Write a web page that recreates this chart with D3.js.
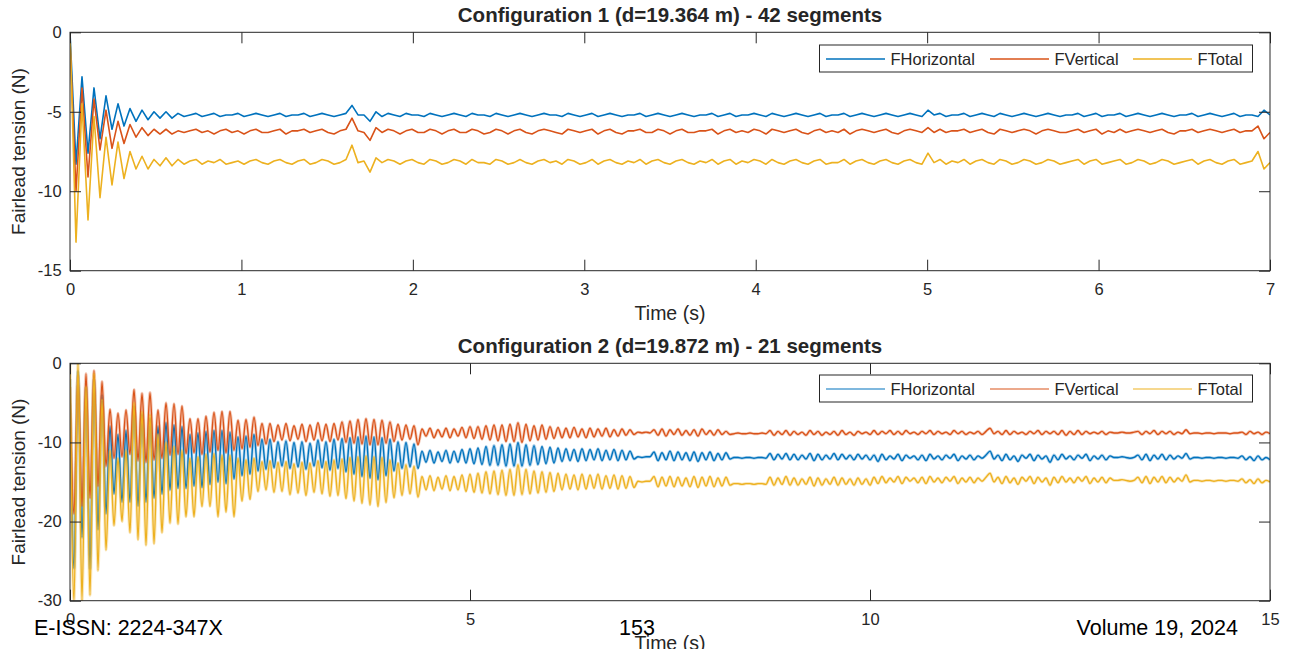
<!DOCTYPE html>
<html>
<head>
<meta charset="utf-8">
<script src="https://cdn.jsdelivr.net/npm/d3@7/dist/d3.min.js"></script>
<style>
  html, body { margin: 0; padding: 0; background: #fff; }
  svg { display: block; }
  text { font-family: "Liberation Sans", Arial, Helvetica, sans-serif; fill: #262626; }
</style>
</head>
<body>
<svg id="fig" width="1291" height="649"></svg>
<script>
// ---------- configuration 1 : 42 segments, sampled every 0.035 s ----------
const top_dt = 0.035;
const top_xTicks = [0, 1, 2, 3, 4, 5, 6, 7];
const top_yTicks = [0, -5, -10, -15];

const top_FHorizontal = [
  0, -8.3, -2.8, -7.6, -3.5, -6.7, -4.0, -6.1, -4.5, -5.9,
  -4.8, -5.6, -4.9, -5.5, -5.0, -5.4, -5.0, -5.4, -5.1, -5.3,
  -5.2, -5.1, -5.3, -5.2, -5.1, -5.3, -5.2, -5.2, -5.1, -5.3,
  -5.2, -5.1, -5.2, -5.3, -5.2, -5.1, -5.3, -5.2, -5.2, -5.1,
  -5.3, -5.2, -5.1, -5.2, -5.3, -5.2, -5.1, -4.6, -5.2, -5.2,
  -5.6, -5.0, -5.3, -5.1, -5.2, -5.3, -5.1, -5.2, -5.2, -5.3,
  -5.1, -5.2, -5.3, -5.2, -5.1, -5.2, -5.3, -5.1, -5.2, -5.2,
  -5.3, -5.1, -5.2, -5.3, -5.2, -5.1, -5.2, -5.3, -5.2, -5.1,
  -5.2, -5.2, -5.3, -5.1, -5.2, -5.3, -5.2, -5.1, -5.3, -5.2,
  -5.1, -5.2, -5.3, -5.2, -5.2, -5.1, -5.3, -5.2, -5.1, -5.2,
  -5.3, -5.2, -5.1, -5.2, -5.3, -5.2, -5.2, -5.1, -5.3, -5.2,
  -5.1, -5.3, -5.2, -5.2, -5.1, -5.2, -5.3, -5.1, -5.2, -5.3,
  -5.2, -5.1, -5.2, -5.3, -5.2, -5.1, -5.3, -5.2, -5.2, -5.1,
  -5.3, -5.2, -5.1, -5.2, -5.3, -5.2, -5.1, -5.2, -5.3, -5.2,
  -5.1, -5.2, -5.3, -4.9, -5.2, -5.1, -5.3, -5.2, -5.2, -5.1,
  -5.3, -5.2, -5.1, -5.2, -5.3, -5.1, -5.2, -5.3, -5.2, -5.1,
  -5.2, -5.3, -5.2, -5.1, -5.2, -5.3, -5.2, -5.2, -5.1, -5.3,
  -5.2, -5.1, -5.3, -5.2, -5.2, -5.1, -5.3, -5.2, -5.1, -5.2,
  -5.3, -5.2, -5.1, -5.2, -5.3, -5.2, -5.2, -5.1, -5.3, -5.2,
  -5.1, -5.2, -5.3, -5.2, -5.1, -5.3, -5.2, -5.2, -5.3, -4.9,
  -5.2
];

const top_FVertical = [
  -0.5, -10.0, -3.5, -9.1, -4.2, -7.4, -4.9, -7.3, -5.6, -7.0,
  -5.8, -6.6, -6.0, -6.5, -6.1, -6.4, -6.1, -6.4, -6.2, -6.3,
  -6.2, -6.1, -6.3, -6.2, -6.4, -6.2, -6.1, -6.3, -6.2, -6.4,
  -6.2, -6.1, -6.3, -6.3, -6.2, -6.1, -6.4, -6.2, -6.2, -6.1,
  -6.3, -6.2, -6.1, -6.3, -6.4, -6.2, -6.1, -5.4, -6.2, -6.3,
  -6.8, -6.0, -6.3, -6.1, -6.2, -6.4, -6.2, -6.1, -6.3, -6.3,
  -6.1, -6.2, -6.4, -6.2, -6.1, -6.3, -6.3, -6.1, -6.2, -6.4,
  -6.3, -6.1, -6.2, -6.4, -6.2, -6.1, -6.3, -6.4, -6.2, -6.1,
  -6.2, -6.3, -6.4, -6.1, -6.2, -6.3, -6.2, -6.1, -6.4, -6.2,
  -6.1, -6.3, -6.4, -6.2, -6.2, -6.1, -6.3, -6.3, -6.1, -6.2,
  -6.4, -6.2, -6.1, -6.3, -6.3, -6.2, -6.2, -6.1, -6.4, -6.2,
  -6.1, -6.3, -6.2, -6.3, -6.1, -6.2, -6.4, -6.1, -6.2, -6.3,
  -6.2, -6.1, -6.3, -6.4, -6.2, -6.1, -6.3, -6.2, -6.3, -6.1,
  -6.4, -6.2, -6.1, -6.2, -6.3, -6.2, -6.1, -6.3, -6.4, -6.2,
  -6.1, -6.2, -6.3, -6.0, -6.3, -6.1, -6.3, -6.2, -6.2, -6.1,
  -6.3, -6.2, -6.1, -6.3, -6.4, -6.1, -6.2, -6.3, -6.2, -6.1,
  -6.2, -6.4, -6.2, -6.1, -6.2, -6.3, -6.3, -6.2, -6.1, -6.3,
  -6.2, -6.1, -6.4, -6.2, -6.3, -6.1, -6.3, -6.2, -6.1, -6.2,
  -6.3, -6.2, -6.1, -6.3, -6.4, -6.2, -6.2, -6.1, -6.3, -6.2,
  -6.1, -6.2, -6.3, -6.2, -6.1, -6.3, -6.2, -6.2, -5.9, -6.7,
  -6.3
];

const top_FTotal = [
  0, -13.2, -4.5, -11.8, -5.3, -10.4, -6.6, -9.6, -6.9, -9.2,
  -7.5, -8.6, -7.8, -8.6, -8.0, -8.4, -7.9, -8.4, -8.0, -8.3,
  -8.1, -8.0, -8.3, -8.1, -8.2, -8.0, -8.3, -8.2, -8.1, -8.3,
  -8.1, -8.0, -8.2, -8.3, -8.1, -8.0, -8.2, -8.3, -8.1, -8.0,
  -8.3, -8.2, -8.0, -8.1, -8.3, -8.2, -8.0, -7.1, -8.2, -8.1,
  -8.8, -7.9, -8.2, -8.0, -8.1, -8.3, -8.1, -8.0, -8.2, -8.3,
  -8.0, -8.1, -8.3, -8.2, -8.0, -8.1, -8.3, -8.0, -8.2, -8.2,
  -8.3, -8.0, -8.1, -8.3, -8.2, -8.0, -8.2, -8.3, -8.1, -8.0,
  -8.2, -8.1, -8.3, -8.0, -8.1, -8.3, -8.2, -8.0, -8.3, -8.1,
  -8.0, -8.2, -8.3, -8.1, -8.2, -8.0, -8.3, -8.1, -8.0, -8.2,
  -8.3, -8.1, -8.0, -8.2, -8.3, -8.1, -8.2, -8.0, -8.3, -8.1,
  -8.0, -8.3, -8.1, -8.2, -8.0, -8.1, -8.3, -8.0, -8.2, -8.3,
  -8.1, -8.0, -8.2, -8.3, -8.1, -8.0, -8.3, -8.2, -8.2, -8.0,
  -8.3, -8.1, -8.0, -8.2, -8.3, -8.1, -8.0, -8.2, -8.3, -8.1,
  -8.0, -8.2, -8.3, -7.6, -8.2, -8.0, -8.3, -8.1, -8.2, -8.0,
  -8.3, -8.1, -8.0, -8.2, -8.3, -8.0, -8.1, -8.3, -8.2, -8.0,
  -8.1, -8.3, -8.2, -8.0, -8.1, -8.3, -8.2, -8.1, -8.0, -8.3,
  -8.1, -8.0, -8.3, -8.2, -8.1, -8.0, -8.3, -8.2, -8.0, -8.1,
  -8.3, -8.2, -8.0, -8.1, -8.3, -8.2, -8.1, -8.0, -8.3, -8.1,
  -8.0, -8.2, -8.3, -8.1, -8.0, -8.3, -8.2, -8.1, -7.5, -8.6,
  -8.2
];

// ---------- configuration 2 : 21 segments, sampled every 0.05 s ----------
const bottom_dt = 0.05;
const bottom_xTicks = [0, 5, 10, 15];
const bottom_yTicks = [0, -10, -20, -30];

const bottom_FHorizontal = [
  -2, -25.9, -1, -22, -3, -26, -2, -21, -4, -19,
  -8, -16.5, -9, -17.5, -8.5, -17.5, -5.5, -18.0, -6.5, -17.5,
  -7.0, -17.0, -8.0, -16.5, -7.5, -16.0, -7.8, -15.8, -8.0, -15.8,
  -9.0, -15.5, -8.8, -15.7, -8.6, -15.3, -8.5, -15.0, -8.5, -15.2,
  -8.7, -14.6, -9.3, -14.2, -9.2, -14.0, -9.0, -13.6, -9.6, -13.4,
  -9.6, -13.2, -9.9, -13.0, -9.8, -13.3, -10.0, -13.1, -9.9, -13.4,
  -10.1, -13.0, -9.7, -13.2, -9.9, -13.5, -9.6, -13.3, -9.5, -13.7,
  -9.4, -14.0, -9.3, -14.3, -9.2, -14.5, -9.3, -14.7, -9.4, -14.2,
  -9.6, -13.6, -9.9, -13.3, -10.0, -13.1, -10.2, -13.3, -11.1, -12.5,
  -11.0, -12.6, -11.2, -12.4, -11.0, -12.6, -11.1, -12.5, -10.9, -12.6,
  -10.8, -12.7, -10.7, -12.8, -10.5, -12.9, -10.4, -12.9, -10.3, -13.0,
  -10.2, -13.0, -10.0, -13.0, -10.3, -12.9, -10.4, -12.8, -10.5, -12.7,
  -10.6, -12.6, -10.7, -12.4, -10.8, -12.3, -10.9, -12.4, -10.8, -12.3,
  -10.9, -12.2, -10.8, -12.3, -11.0, -12.2, -10.9, -12.3, -11.0, -12.2,
  -11.1, -12.1, -11.8, -11.9, -11.8, -11.8, -11.2, -12.3, -11.3, -12.2,
  -11.1, -12.3, -11.2, -12.2, -11.3, -12.3, -11.2, -12.4, -11.3, -12.2,
  -11.2, -12.3, -11.4, -12.2, -11.3, -12.1, -11.9, -11.9, -12.0, -11.9,
  -11.9, -12.0, -11.9, -11.9, -12.0, -11.4, -12.2, -11.5, -12.1, -11.4,
  -12.2, -11.5, -12.2, -11.6, -12.1, -11.4, -12.3, -11.5, -12.2, -11.6,
  -12.1, -11.4, -12.2, -11.5, -12.1, -11.6, -12.2, -11.5, -12.1, -11.6,
  -12.2, -11.6, -12.4, -11.5, -12.2, -11.7, -12.1, -11.5, -12.3, -11.6,
  -12.0, -11.7, -12.2, -11.6, -12.3, -11.5, -12.1, -11.7, -12.2, -11.6,
  -12.0, -11.5, -12.3, -11.7, -12.1, -11.6, -12.2, -11.7, -12.0, -11.6,
  -11.1, -12.1, -11.6, -12.3, -11.5, -12.2, -11.7, -12.4, -11.6, -12.0,
  -11.5, -12.3, -11.6, -12.1, -11.7, -12.5, -11.6, -12.2, -11.5, -12.1,
  -11.7, -12.2, -11.6, -12.0, -11.5, -12.3, -11.7, -12.1, -11.6, -12.2,
  -11.7, -11.9, -11.9, -11.8, -11.9, -12.0, -11.9, -11.6, -12.2, -11.5,
  -12.3, -11.6, -12.1, -11.5, -12.2, -11.6, -12.1, -11.7, -12.0, -11.4,
  -12.1, -11.9, -11.9, -12.0, -11.9, -11.9, -12.0, -11.9, -11.9, -12.0,
  -11.9, -11.9, -12.0, -11.7, -12.2, -11.8, -12.3, -11.7, -12.2, -11.9,
  -12.2
];

const bottom_FVertical = [
  -3, -19, -1.5, -18, -1.3, -17, -0.9, -15.5, -2.3, -13,
  -5.8, -12.0, -6.3, -11.8, -5.9, -11.5, -3.3, -12.3, -3.8, -12.5,
  -3.7, -12.2, -5.9, -12.0, -5.0, -11.6, -5.1, -11.5, -5.4, -11.4,
  -7.0, -11.3, -7.0, -11.5, -6.7, -11.2, -6.2, -11.0, -6.1, -11.3,
  -6.1, -11.0, -7.2, -10.8, -7.1, -10.6, -6.8, -10.4, -7.6, -10.2,
  -7.6, -9.9, -7.8, -9.7, -7.6, -9.8, -7.9, -9.6, -7.7, -9.9,
  -7.8, -9.7, -7.5, -9.8, -7.7, -9.9, -7.6, -9.7, -7.4, -10.0,
  -7.3, -10.1, -7.1, -10.2, -7.0, -10.3, -7.1, -10.3, -7.2, -10.1,
  -7.4, -9.9, -7.7, -9.7, -7.8, -9.6, -7.9, -10.3, -8.3, -9.2,
  -8.2, -9.4, -8.4, -9.3, -8.2, -9.4, -8.3, -9.2, -8.1, -9.4,
  -8.0, -9.5, -8.0, -9.6, -7.9, -9.7, -7.8, -9.8, -7.8, -9.9,
  -7.7, -9.9, -7.5, -10.0, -7.7, -9.8, -7.9, -9.7, -7.8, -9.6,
  -8.0, -9.5, -8.1, -9.4, -8.2, -9.4, -8.1, -9.3, -8.3, -9.4,
  -8.2, -9.3, -8.3, -9.2, -8.2, -9.3, -8.4, -9.2, -8.3, -9.1,
  -8.4, -9.0, -8.7, -8.8, -8.7, -8.8, -8.4, -9.1, -8.3, -9.2,
  -8.4, -9.0, -8.3, -9.1, -8.5, -9.1, -8.4, -9.2, -8.3, -9.0,
  -8.5, -9.1, -8.4, -9.0, -8.6, -9.0, -8.9, -8.8, -8.9, -8.9,
  -8.8, -8.9, -8.9, -8.8, -8.9, -8.5, -9.1, -8.6, -9.0, -8.5,
  -9.1, -8.6, -9.0, -8.7, -9.1, -8.5, -9.0, -8.6, -9.1, -8.7,
  -9.0, -8.6, -9.1, -8.5, -9.0, -8.7, -9.1, -8.6, -8.9, -8.7,
  -9.0, -8.5, -9.0, -8.6, -8.9, -8.5, -9.0, -8.6, -9.0, -8.5,
  -8.9, -8.7, -9.0, -8.6, -8.9, -8.5, -9.0, -8.6, -8.9, -8.7,
  -9.0, -8.5, -8.9, -8.6, -9.0, -8.7, -8.9, -8.6, -9.0, -8.6,
  -8.2, -8.9, -8.6, -9.0, -8.5, -9.0, -8.6, -8.9, -8.7, -9.0,
  -8.6, -8.9, -8.5, -9.0, -8.6, -8.9, -8.6, -9.0, -8.5, -9.1,
  -8.6, -9.0, -8.5, -9.0, -8.6, -8.9, -8.7, -8.9, -8.6, -9.0,
  -8.7, -8.8, -8.8, -8.7, -8.8, -8.8, -8.7, -8.6, -9.0, -8.6,
  -8.9, -8.5, -9.0, -8.6, -8.9, -8.6, -9.0, -8.7, -8.9, -8.4,
  -8.9, -8.8, -8.8, -8.9, -8.8, -8.8, -8.9, -8.8, -8.8, -8.8,
  -8.9, -8.8, -8.8, -8.7, -9.0, -8.6, -8.9, -8.7, -9.0, -8.7,
  -8.9
];

const bottom_FTotal = [
  0, -30, 0, -30, -3, -29.3, -1.3, -26.2, -4.6, -23.6,
  -11, -20.5, -12, -20.0, -11, -21.4, -5.0, -22.3, -6.1, -23.0,
  -6.5, -22.8, -9.0, -21.4, -10.0, -20.2, -10.5, -20.3, -11.0, -19.4,
  -12.0, -19.4, -11.8, -18.1, -11.5, -18.1, -11.4, -19.4, -11.6, -18.8,
  -11.6, -19.4, -12.0, -17.4, -12.2, -17.2, -12.0, -16.2, -12.4, -16.0,
  -12.3, -16.3, -12.5, -16.2, -12.4, -16.6, -12.7, -16.4, -12.5, -16.7,
  -12.6, -16.3, -12.3, -16.5, -12.4, -16.8, -12.2, -16.7, -12.1, -17.1,
  -11.9, -17.4, -11.8, -17.7, -11.7, -17.9, -11.8, -18.1, -11.9, -17.6,
  -12.2, -17.0, -12.6, -16.7, -12.8, -16.5, -13.0, -16.9, -14.3, -16.0,
  -14.2, -16.1, -14.4, -15.9, -14.2, -16.1, -14.3, -16.0, -14.1, -16.2,
  -14.0, -16.3, -13.9, -16.4, -13.7, -16.5, -13.6, -16.6, -13.5, -16.7,
  -13.4, -16.7, -12.8, -16.6, -13.4, -16.5, -13.6, -16.4, -13.7, -16.3,
  -13.8, -16.2, -13.9, -16.0, -14.0, -15.9, -14.1, -16.0, -14.0, -15.9,
  -14.1, -15.8, -14.0, -15.9, -14.2, -15.8, -14.1, -15.9, -14.2, -15.8,
  -14.3, -15.7, -14.9, -15.0, -14.9, -14.9, -14.3, -15.6, -14.4, -15.5,
  -14.3, -15.6, -14.4, -15.5, -14.5, -15.6, -14.3, -15.7, -14.4, -15.5,
  -14.3, -15.6, -14.5, -15.5, -14.4, -15.4, -15.2, -15.2, -15.3, -15.2,
  -15.2, -15.3, -15.2, -15.2, -15.3, -14.4, -15.4, -14.5, -15.3, -14.3,
  -15.4, -14.5, -15.4, -14.6, -15.3, -14.4, -15.5, -14.5, -15.4, -14.6,
  -15.3, -14.4, -15.4, -14.5, -15.3, -14.6, -15.4, -14.5, -15.3, -14.6,
  -15.4, -14.4, -15.2, -14.3, -15.1, -14.5, -15.0, -14.3, -15.2, -14.4,
  -14.9, -14.5, -15.1, -14.4, -15.2, -14.3, -15.0, -14.5, -15.1, -14.4,
  -14.9, -14.3, -15.2, -14.5, -15.0, -14.4, -15.1, -14.5, -14.9, -14.4,
  -13.9, -15.0, -14.4, -15.2, -14.3, -15.1, -14.5, -15.3, -14.4, -14.9,
  -14.3, -15.2, -14.4, -15.0, -14.5, -15.4, -14.4, -15.1, -14.3, -15.0,
  -14.5, -15.1, -14.4, -14.9, -14.3, -15.2, -14.5, -15.0, -14.4, -15.1,
  -14.5, -14.8, -14.8, -14.7, -14.8, -14.9, -14.8, -14.4, -15.1, -14.3,
  -15.2, -14.4, -15.0, -14.3, -15.1, -14.4, -15.0, -14.5, -14.9, -14.1,
  -15.0, -14.8, -14.8, -14.9, -14.8, -14.8, -14.9, -14.8, -14.8, -14.9,
  -14.8, -14.8, -14.9, -14.6, -15.1, -14.7, -15.2, -14.6, -15.1, -14.8,
  -15.0
];

const seriesNames = ["FHorizontal", "FVertical", "FTotal"];
const seriesColors = ["#0072BD", "#D95319", "#EDB120"];

// ---------- layout ----------
const svg = d3.select("#fig");
svg.append("rect").attr("width", 1291).attr("height", 649).attr("fill", "#fff");

const axisColor = "#262626";
const plotLeft = 70, plotRight = 1270;

const panels = [
  {
    id: "p1",
    title: "Configuration 1 (d=19.364 m) - 42 segments",
    top: 32.3, bottom: 270.7,
    xMax: 7, yMin: -15,
    xTicks: top_xTicks, yTicks: top_yTicks,
    dt: top_dt,
    data: [top_FHorizontal, top_FVertical, top_FTotal],
    curve: d3.curveLinear,
    halo: false,
    legendTop: 45,
    legendOpacity: 1
  },
  {
    id: "p2",
    title: "Configuration 2 (d=19.872 m) - 21 segments",
    top: 363.3, bottom: 600.7,
    xMax: 15, yMin: -30,
    xTicks: bottom_xTicks, yTicks: bottom_yTicks,
    dt: bottom_dt,
    data: [bottom_FHorizontal, bottom_FVertical, bottom_FTotal],
    curve: d3.curveMonotoneX,
    halo: true,
    legendTop: 375,
    legendOpacity: 0.5
  }
];

const defs = svg.append("defs");

panels.forEach(p => {
  const x = d3.scaleLinear().domain([0, p.xMax]).range([plotLeft, plotRight]);
  const y = d3.scaleLinear().domain([p.yMin, 0]).range([p.bottom, p.top]);
  const g = svg.append("g");

  defs.append("clipPath").attr("id", "clip-" + p.id)
    .append("rect")
    .attr("x", plotLeft).attr("y", p.top)
    .attr("width", plotRight - plotLeft).attr("height", p.bottom - p.top);

  // data lines
  const lines = g.append("g").attr("clip-path", `url(#clip-${p.id})`);
  const line = d3.line()
    .x((d, i) => x(i * p.dt))
    .y(d => y(d))
    .curve(p.curve);

  p.data.forEach((vals, k) => {
    if (p.halo) {
      lines.append("path").datum(vals)
        .attr("d", line)
        .attr("fill", "none")
        .attr("stroke", seriesColors[k])
        .attr("stroke-opacity", 0.3)
        .attr("stroke-width", 3)
        .attr("stroke-linejoin", "round");
    }
    lines.append("path").datum(vals)
      .attr("d", line)
      .attr("fill", "none")
      .attr("stroke", seriesColors[k])
      .attr("stroke-width", p.halo ? 1.4 : 1.6)
      .attr("stroke-linejoin", "round");
  });

  // axes with inward ticks on all four sides
  const fontSize = "16.5px";
  const gx = g.append("g").attr("transform", `translate(0,${p.bottom})`)
    .call(d3.axisBottom(x).tickValues(p.xTicks).tickSizeInner(-11).tickSizeOuter(0).tickPadding(12.3).tickFormat(d3.format("d")));
  const gxTop = g.append("g").attr("transform", `translate(0,${p.top})`)
    .call(d3.axisTop(x).tickValues(p.xTicks).tickSizeInner(-11).tickSizeOuter(0).tickFormat(""));
  const gy = g.append("g").attr("transform", `translate(${plotLeft},0)`)
    .call(d3.axisLeft(y).tickValues(p.yTicks).tickSizeInner(-11).tickSizeOuter(0).tickPadding(8.3).tickFormat(d3.format("d")));
  const gyRight = g.append("g").attr("transform", `translate(${plotRight},0)`)
    .call(d3.axisRight(y).tickValues(p.yTicks).tickSizeInner(-11).tickSizeOuter(0).tickFormat(""));

  [gx, gxTop, gy, gyRight].forEach(a => {
    a.select(".domain").remove();
    a.selectAll(".tick line").attr("stroke", axisColor).attr("stroke-width", 1);
    a.selectAll(".tick text")
      .attr("fill", axisColor)
      .style("font-size", fontSize)
      .style("font-family", "'Liberation Sans', Arial, sans-serif");
  });
  gy.selectAll(".tick text").text(d => d === 0 ? "0" : "-" + Math.abs(d));

  // frame
  g.append("rect")
    .attr("x", plotLeft).attr("y", p.top)
    .attr("width", plotRight - plotLeft).attr("height", p.bottom - p.top)
    .attr("fill", "none").attr("stroke", axisColor).attr("stroke-width", 1);

  // title
  g.append("text")
    .attr("x", (plotLeft + plotRight) / 2).attr("y", p.top - 10)
    .attr("text-anchor", "middle")
    .style("font-size", "20.5px").style("font-weight", "bold")
    .text(p.title);

  // axis labels
  g.append("text")
    .attr("x", (plotLeft + plotRight) / 2).attr("y", p.bottom + 49)
    .attr("text-anchor", "middle")
    .style("font-size", "19.5px")
    .text("Time (s)");

  g.append("text")
    .attr("transform", `translate(25,${(p.top + p.bottom) / 2}) rotate(-90)`)
    .attr("text-anchor", "middle")
    .style("font-size", "19px")
    .text("Fairlead tension (N)");

  // legend
  const lg = g.append("g");
  const lx0 = 819.5, lx1 = 1252.5, ly0 = p.legendTop, lh = 27;
  lg.append("rect")
    .attr("x", lx0).attr("y", ly0).attr("width", lx1 - lx0).attr("height", lh)
    .attr("fill", "#fff").attr("stroke", axisColor).attr("stroke-width", 1);
  const entryX = [826, 990, 1133];
  seriesNames.forEach((name, k) => {
    const cy = ly0 + lh / 2 + 0.5;
    lg.append("line")
      .attr("x1", entryX[k]).attr("x2", entryX[k] + 59)
      .attr("y1", cy).attr("y2", cy)
      .attr("stroke", seriesColors[k])
      .attr("stroke-opacity", p.legendOpacity)
      .attr("stroke-width", p.halo ? 2 : 1.3);
    lg.append("text")
      .attr("x", entryX[k] + 64.5).attr("y", cy + 6)
      .style("font-size", "16.5px")
      .text(name);
  });
});

// page footer
const footer = svg.append("g").style("font-size", "21.5px");
footer.append("text").attr("x", 34).attr("y", 635).style("fill", "#000").text("E-ISSN: 2224-347X");
footer.append("text").attr("x", 637).attr("y", 635).attr("text-anchor", "middle").style("fill", "#000").text("153");
footer.append("text").attr("x", 1238).attr("y", 635).attr("text-anchor", "end").style("fill", "#000").text("Volume 19, 2024");
</script>
</body>
</html>
